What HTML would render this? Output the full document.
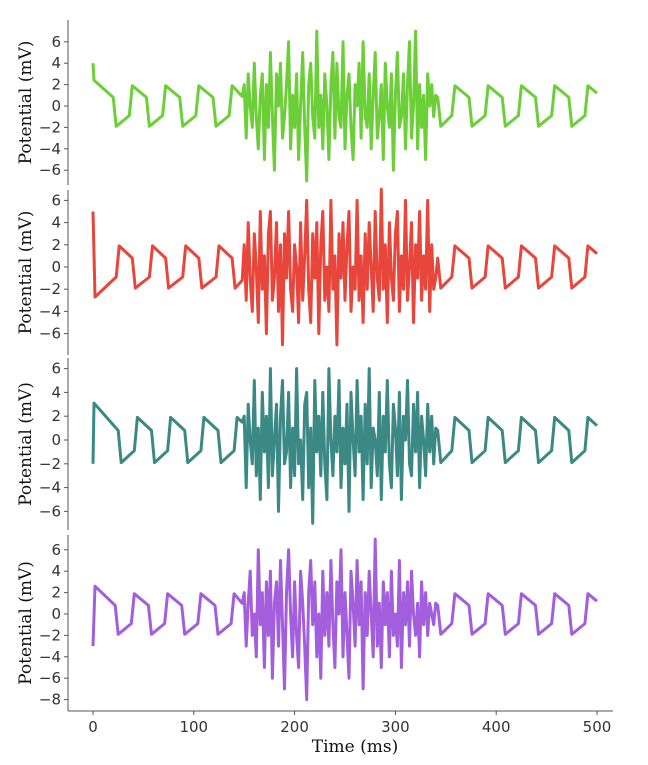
<!DOCTYPE html>
<html><head><meta charset="utf-8"><style>
html,body{margin:0;padding:0;background:#fff;}
svg{display:block;}
.tk{font-family:"DejaVu Sans","Liberation Sans",sans-serif;font-size:15px;fill:#333;}
.lab{font-family:"DejaVu Serif","Liberation Serif",serif;font-size:17px;fill:#111;}
</style></head><body>
<svg id="chart" width="648" height="765"></svg>
<script>
// oscillation keypoints (ms, mV) per panel
const preTimesGreen=[0,1,20,23,36,39,53,56,69,72,86,89,102,105,119,122,135,138,148];
const preValsGreen=[4,2.4,0.8,-1.9,-0.9,1.9,0.8,-1.9,-0.9,1.9,0.8,-1.9,-0.9,1.9,0.8,-1.9,-0.9,1.9,0.9];
const preTimesRed=[0,2,23,26,39,42,56,59,72,75,89,92,105,108,122,125,138,141,148];
const preValsRed=[5,-2.7,-0.9,1.9,0.8,-1.9,-0.9,1.9,0.8,-1.9,-0.9,1.9,0.8,-1.9,-0.9,1.9,0.8,-1.9,-1.2];
const preTimesTeal=[0,1,25,28,41,44,58,61,74,77,91,94,107,110,124,127,140,143,148];
const preValsTeal=[-2,3.1,0.8,-1.9,-0.9,1.9,0.8,-1.9,-0.9,1.9,0.8,-1.9,-0.9,1.9,0.8,-1.9,-0.9,1.9,1.5];
const preTimesPurple=[0,2,22,25,38,41,55,58,71,74,88,91,104,107,121,124,137,140,148];
const preValsPurple=[-3,2.6,0.8,-1.9,-0.9,1.9,0.8,-1.9,-0.9,1.9,0.8,-1.9,-0.9,1.9,0.8,-1.9,-0.9,1.9,1.0];
const postTimes=[342,345,356,359,373,376,389,392,406,409,422,425,439,442,455,458,472,475,488,491,500];
const postVals=[0.8,-1.9,-0.9,1.9,0.8,-1.9,-0.9,1.9,0.8,-1.9,-0.9,1.9,0.8,-1.9,-0.9,1.9,0.8,-1.9,-0.9,1.9,1.2];
const noiseStart=150, noiseStep=2;
const noiseGreen=[2,-3,3,0,-2,4,-1,-4,1,3,-5,2,-2,5,-1,-6,3,0,4,-3,-1,2,6,-4,1,-2,3,-5,0,5,-2,-7,2,4,-1,-3,7,-2,1,-4,3,0,-5,2,5,-3,4,-1,-2,6,-4,1,3,-2,-5,2,0,4,-3,6,-1,-2,3,-4,1,5,-3,-1,2,-5,4,0,-2,3,-6,1,5,-2,-1,3,-4,2,6,-3,0,7,-4,2,-2,1,-5,3,0,2,-1,1];
const noiseRed=[2,-3,4,-1,-4,3,0,-5,5,-2,1,-6,3,5,-3,-1,4,-4,2,-7,3,-1,5,-2,-4,2,0,-5,4,-3,1,6,-2,-5,3,-1,4,-6,2,5,-3,0,-4,6,-2,1,-7,3,-1,4,-3,2,5,-4,0,-2,6,-3,1,-5,3,-2,4,0,-4,5,-1,-3,7,-2,2,-5,4,-1,-3,3,5,-4,1,-2,6,-3,0,4,-5,2,-1,5,-3,1,-2,6,-4,2,-2,-1];
const noiseTeal=[2,-4,3,0,-2,5,-3,1,-5,4,-1,2,-4,6,-3,0,3,-6,2,5,-2,-1,4,-4,1,-3,6,-2,0,-5,3,4,-4,1,-7,5,-1,2,-3,4,-2,-5,6,0,-3,2,-1,5,-4,1,-2,3,-6,4,0,-3,5,-1,2,-5,3,-2,6,-4,1,0,-3,4,-5,2,-1,5,-2,-4,3,1,-3,4,-5,2,0,5,-2,-3,3,-1,4,-4,2,0,-3,3,-1,2,-2,1];
const noisePurple=[2,-3,1,4,-2,0,-4,6,-1,2,-5,3,-2,4,-6,1,3,-3,5,-1,-7,2,6,0,-4,3,-2,-5,4,1,-3,-8,2,5,-1,3,-4,0,-6,4,-2,2,-3,5,-1,-5,3,0,6,-4,2,-2,-6,4,1,-3,5,-1,3,-7,2,-2,4,0,-4,7,-3,1,-5,3,-1,2,-4,4,-2,0,-3,5,-5,2,-1,3,-3,4,0,-2,1,-4,3,-1,2,-2,1,0,-1,1];
const xTicks=[0,100,200,300,400,500];
const panels=[
 {name:'green',color:'#6ccf38',pt:preTimesGreen,pv:preValsGreen,noise:noiseGreen,zero:106,k:10.7,top:20,bot:185,ticks:[-6,-4,-2,0,2,4,6]},
 {name:'red',color:'#e8453b',pt:preTimesRed,pv:preValsRed,noise:noiseRed,zero:267,k:11.1,top:190,bot:355,ticks:[-6,-4,-2,0,2,4,6]},
 {name:'teal',color:'#3a8985',pt:preTimesTeal,pv:preValsTeal,noise:noiseTeal,zero:440,k:11.9,top:358,bot:530,ticks:[-6,-4,-2,0,2,4,6]},
 {name:'purple',color:'#a25edc',pt:preTimesPurple,pv:preValsPurple,noise:noisePurple,zero:614,k:10.7,top:535,bot:711,ticks:[-8,-6,-4,-2,0,2,4,6]}
];
const svg=document.getElementById('chart');
const NS='http://www.w3.org/2000/svg';
const X=t=>93+t*1.008;
function mk(tag,attrs){const e=document.createElementNS(NS,tag);for(const a in attrs)e.setAttribute(a,attrs[a]);svg.appendChild(e);return e;}
const AX=68;
panels.forEach((p,i)=>{
  const Y=v=>p.zero-v*p.k;
  const sp=mk('line',{x1:AX,x2:AX,y1:p.top,y2:p.bot,stroke:'#555','stroke-width':1});
  
  
  p.ticks.forEach(v=>{
    const tl=mk('line',{x1:AX-4,x2:AX,y1:Y(v),y2:Y(v),stroke:'#555','stroke-width':1});
    
    
    const tx=mk('text',{x:AX-7,y:Y(v)+5,'text-anchor':'end',class:'tk'});
    tx.textContent=v<0?'\u2212'+Math.abs(v):String(v);
    
    
  });
  const cy=(p.top+p.bot)/2;
  const lab=mk('text',{x:0,y:0,'text-anchor':'middle',class:'lab',transform:`translate(31,${cy}) rotate(-90)`});
  lab.textContent='Potential (mV)';
  
  
  const pts=[];
  p.pt.forEach((t,j)=>pts.push([t,p.pv[j]]));
  p.noise.forEach((v,j)=>pts.push([noiseStart+j*noiseStep,v]));
  postTimes.forEach((t,j)=>pts.push([t,postVals[j]]));
  const path=mk('polyline',{points:pts.map(q=>X(q[0]).toFixed(1)+','+Y(q[1]).toFixed(1)).join(' '),fill:'none',stroke:p.color,'stroke-width':3,'stroke-linejoin':'round'});
  
  
});
const xa=mk('line',{x1:AX,x2:613,y1:711,y2:711,stroke:'#555','stroke-width':1});


xTicks.forEach(t=>{
  const tl=mk('line',{x1:X(t),x2:X(t),y1:711,y2:715,stroke:'#555','stroke-width':1});
  
  
  const tx=mk('text',{x:X(t),y:732,'text-anchor':'middle',class:'tk'});
  tx.textContent=String(t);
  
  
});
const xt=mk('text',{x:355,y:752,'text-anchor':'middle',class:'lab','font-size':'20'});
xt.textContent='Time (ms)';


</script>
</body></html>
